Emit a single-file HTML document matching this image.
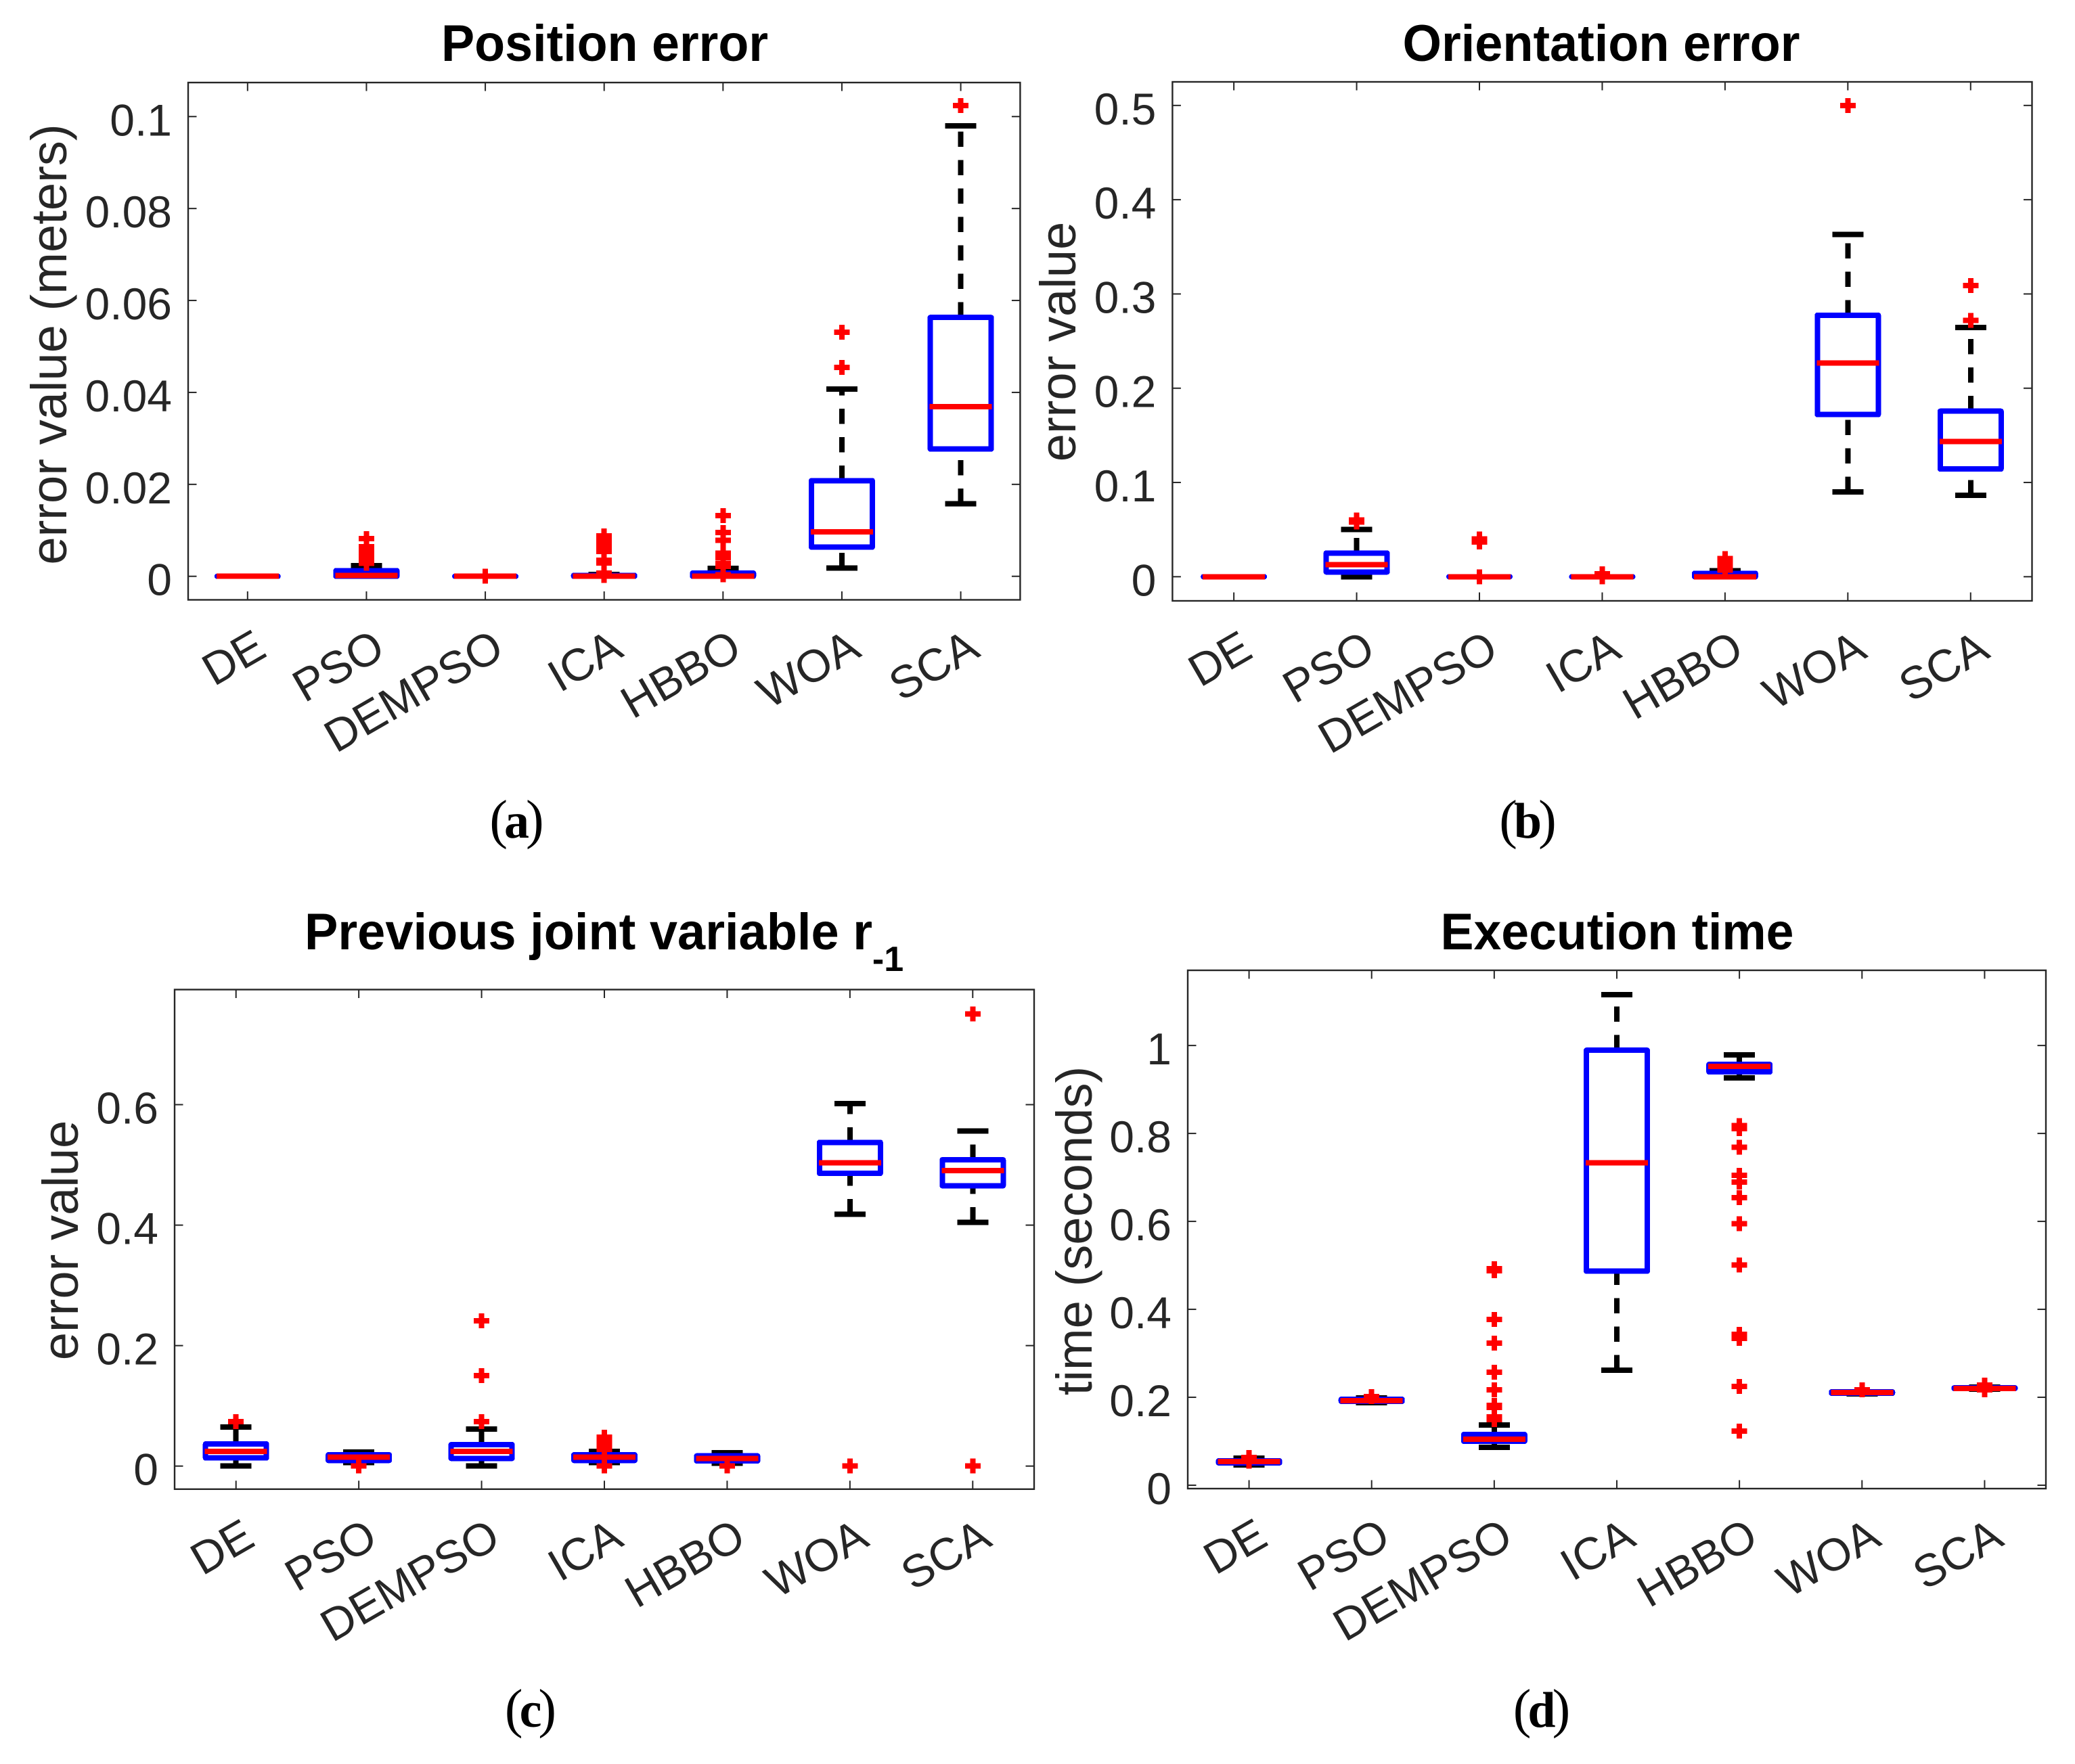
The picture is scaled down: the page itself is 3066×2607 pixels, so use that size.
<!DOCTYPE html>
<html lang="en">
<head>
<meta charset="utf-8">
<title>Box plots of position error, orientation error, joint variable and execution time</title>
<style>
html,body{margin:0;padding:0;background:#fff}
svg{display:block}
text{font-family:"Liberation Sans",sans-serif}
.title{font-weight:bold;fill:#000;text-anchor:middle}
.ylab{fill:#262626;text-anchor:middle;font-size:74.2px}
.cap{font-family:"Liberation Serif",serif;font-weight:bold;fill:#000;text-anchor:middle;font-size:74px}
.cap .par{font-weight:normal;font-size:80px}
</style>
</head>
<body>
<svg id="figure" xmlns="http://www.w3.org/2000/svg" width="3066" height="2607" viewBox="0 0 3066 2607">
<rect x="0" y="0" width="3066" height="2607" fill="#fff"/>
<text class="title" x="893.5" y="90" font-size="76" textLength="483" lengthAdjust="spacingAndGlyphs">Position error</text>
<text class="title" x="2366" y="90" font-size="76" textLength="587" lengthAdjust="spacingAndGlyphs">Orientation error</text>
<text class="title" x="869.5" y="1403" font-size="76" textLength="839" lengthAdjust="spacingAndGlyphs">Previous joint variable r</text>
<text class="title" x="1312" y="1435" font-size="52">-1</text>
<text class="title" x="2389.5" y="1403" font-size="76" textLength="522" lengthAdjust="spacingAndGlyphs">Execution time</text>
<text class="ylab" transform="translate(98 509) rotate(-90)">error value (meters)</text>
<text class="ylab" transform="translate(1589 505) rotate(-90)">error value</text>
<text class="ylab" transform="translate(115 1833) rotate(-90)">error value</text>
<text class="ylab" transform="translate(1613 1819) rotate(-90)">time (seconds)</text>
<text class="cap" x="763.5" y="1238"><tspan class="par">(</tspan><tspan dx="-5">a</tspan><tspan class="par" dx="-5">)</tspan></text>
<text class="cap" x="2257.5" y="1238"><tspan class="par">(</tspan><tspan dx="-5">b</tspan><tspan class="par" dx="-5">)</tspan></text>
<text class="cap" x="784" y="2552"><tspan class="par">(</tspan><tspan dx="-5">c</tspan><tspan class="par" dx="-5">)</tspan></text>
<text class="cap" x="2278" y="2552"><tspan class="par">(</tspan><tspan dx="-5">d</tspan><tspan class="par" dx="-5">)</tspan></text>
<g id="panels"></g>
</svg>
<script>
const categories = ['DE','PSO','DEMPSO','ICA','HBBO','WOA','SCA'];

// (a) Position error
const posTickValues = [0,0.02,0.04,0.06,0.08,0.1];
const posTickLabels = ['0','0.02','0.04','0.06','0.08','0.1'];
const posWhiskerLow = [0,0,0,0,0,0.0018,0.01575];
const posQ1 = [0,0,0,0,0,0.00635,0.0277];
const posMedian = [0,0.0002,0,0,0,0.00965,0.0369];
const posQ3 = [0,0.00123,0,0.0002,0.00069,0.0208,0.0563];
const posWhiskerHigh = [0,0.0023,0,0.0004,0.00176,0.0407,0.098];
const posOutliers = [
  [],
  [0.0082,0.0064,0.0058,0.0052,0.0046,0.004,0.0034,0.0028],
  [0],
  [0.0088,0.0082,0.0076,0.007,0.0064,0.0058,0.0054,0.0035,0.0029,0.0007,0.0002],
  [0.0132,0.0095,0.0078,0.005,0.0041,0.0028,0.0022,0.0003],
  [0.0454,0.0531],
  [0.1024]
];

// (b) Orientation error
const oriTickValues = [0,0.1,0.2,0.3,0.4,0.5];
const oriTickLabels = ['0','0.1','0.2','0.3','0.4','0.5'];
const oriWhiskerLow = [0,0,0,0,0,0.0899,0.0863];
const oriQ1 = [0,0.005,0,0,0,0.172,0.1143];
const oriMedian = [0,0.0129,0,0,0,0.2268,0.1435];
const oriQ3 = [0,0.0251,0,0,0.0036,0.2774,0.1756];
const oriWhiskerHigh = [0,0.0503,0,0,0.0065,0.3631,0.2643];
const oriOutliers = [
  [],
  [0.0603,0.0581],
  [0.04,0.037,0],
  [0.003,0],
  [0.0194,0.017,0.0145,0.012,0.0095,0.007],
  [0.5],
  [0.272,0.309]
];

// (c) Previous joint variable r-1
const jointTickValues = [0,0.2,0.4,0.6];
const jointTickLabels = ['0','0.2','0.4','0.6'];
const jointWhiskerLow = [0,0.0056,0,0.0056,0.005,0.4178,0.4047];
const jointQ1 = [0.0135,0.0094,0.0127,0.0094,0.0086,0.486,0.4654];
const jointMedian = [0.0243,0.0146,0.0243,0.0146,0.0127,0.5037,0.4907];
const jointQ3 = [0.0367,0.0187,0.0356,0.0187,0.0169,0.5374,0.5084];
const jointWhiskerHigh = [0.0648,0.0232,0.0614,0.0243,0.0221,0.6019,0.556];
const jointOutliers = [
  [0.0738],
  [0],
  [0.0738,0.15,0.2412],
  [0,0.048,0.043,0.038,0.033,0.028],
  [0],
  [0],
  [0,0.7505]
];

// (d) Execution time
const timeTickValues = [0,0.2,0.4,0.6,0.8,1];
const timeTickLabels = ['0','0.2','0.4','0.6','0.8','1'];
const timeWhiskerLow = [0.0462,0.1877,0.0862,0.2615,0.9262,0.2077,0.2185];
const timeQ1 = [0.0508,0.1908,0.1,0.4868,0.94,0.2092,0.22];
const timeMedian = [0.0538,0.1923,0.1046,0.7334,0.9523,0.2108,0.22];
const timeQ3 = [0.0554,0.1954,0.1154,0.9892,0.9569,0.2123,0.2215];
const timeWhiskerHigh = [0.0615,0.1985,0.1369,1.1154,0.9785,0.2123,0.2231];
const timeOutliers = [
  [0.0631,0.055],
  [0.2015],
  [0.4923,0.4877,0.3769,0.3231,0.2569,0.2169,0.1815,0.177,0.1554,0.1492],
  [],
  [0.8175,0.811,0.7686,0.7044,0.689,0.6542,0.5951,0.501,0.343,0.3338,0.2246,0.1231],
  [0.2169],
  [0.2277,0.2169]
];

const SVGNS = 'http://www.w3.org/2000/svg';
const root = document.getElementById('panels');
const AXIS = '#262626';

function make(tag, attrs, parent) {
  const el = document.createElementNS(SVGNS, tag);
  for (const k in attrs) el.setAttribute(k, attrs[k]);
  parent.appendChild(el);
  return el;
}

function drawPanel(p) {
  const g = make('g', {}, root);
  
  

  const xPos = i => p.left + (i + 0.5) * (p.right - p.left) / categories.length;
  const yPos = v => p.bottom - (v - p.yMin) / (p.yMax - p.yMin) * (p.bottom - p.top);

  // ticks
  const tickLen = 12.5;
  categories.forEach((c, i) => {
    const x = xPos(i);
    const t1 = make('line', {x1:x, x2:x, y1:p.bottom, y2:p.bottom - tickLen, stroke:AXIS, 'stroke-width':2}, g);
    
    
    const t2 = make('line', {x1:x, x2:x, y1:p.top, y2:p.top + tickLen, stroke:AXIS, 'stroke-width':2}, g);
    
    
    const lab = make('text', {
      transform:'translate(' + (x + 31) + ' ' + (p.bottom + 82) + ') rotate(-30)',
      'text-anchor':'end', 'font-size':67, fill:AXIS
    }, g);
    lab.textContent = c;
    
    
  });
  p.tickValues.forEach((v, i) => {
    const y = yPos(v);
    const t1 = make('line', {x1:p.left, x2:p.left + tickLen, y1:y, y2:y, stroke:AXIS, 'stroke-width':2}, g);
    
    
    const t2 = make('line', {x1:p.right, x2:p.right - tickLen, y1:y, y2:y, stroke:AXIS, 'stroke-width':2}, g);
    
    
    const lab = make('text', {x:p.left - 24, y:y + 28, 'text-anchor':'end', 'font-size':66, fill:AXIS}, g);
    lab.textContent = p.tickLabels[i];
    
    
  });

  // boxes
  categories.forEach((c, i) => {
    const x = xPos(i);
    const key = p.name + '-' + c.toLowerCase();
    const boxG = make('g', {'shape-rendering':'crispEdges'}, g);
    
    

    const wLo = yPos(p.whiskerLow[i]);
    const wHi = yPos(p.whiskerHigh[i]);
    const q1 = yPos(p.q1[i]);
    const q3 = yPos(p.q3[i]);
    const med = yPos(p.median[i]);

    const upper = make('line', {x1:x, x2:x, y1:q3, y2:wHi, stroke:'#000', 'stroke-width':8, 'stroke-dasharray':'22.5 19.5'}, boxG);
    
    
    const lower = make('line', {x1:x, x2:x, y1:wLo, y2:q1, stroke:'#000', 'stroke-width':8, 'stroke-dasharray':'22.5 19.5'}, boxG);
    
    

    const capHi = make('line', {x1:x - 23, x2:x + 23, y1:wHi, y2:wHi, stroke:'#000', 'stroke-width':8}, boxG);
    
    
    const capLo = make('line', {x1:x - 23, x2:x + 23, y1:wLo, y2:wLo, stroke:'#000', 'stroke-width':8}, boxG);
    
    

    const hw = 45;
    const box = make('path', {
      d:'M' + (x - hw) + ' ' + q1 + 'L' + (x + hw) + ' ' + q1 + 'L' + (x + hw) + ' ' + q3 + 'L' + (x - hw) + ' ' + q3 + 'Z',
      fill:'none', stroke:'#0000ff', 'stroke-width':8, 'stroke-linejoin':'round'
    }, boxG);
    
    

    const medLine = make('line', {x1:x - 46, x2:x + 46, y1:med, y2:med, stroke:'#ff0000', 'stroke-width':8}, boxG);
    
    

    p.outliers[i].forEach(v => {
      const y = yPos(v);
      const o = make('path', {
        d:'M' + (x - 11.5) + ' ' + y + 'H' + (x + 11.5) + 'M' + x + ' ' + (y - 11) + 'V' + (y + 11),
        fill:'none', stroke:'#ff0000', 'stroke-width':8
      }, boxG);
      
      
    });
  });

  // axes frame
  const frame = make('rect', {
    x:p.left, y:p.top, width:p.right - p.left, height:p.bottom - p.top,
    fill:'none', stroke:AXIS, 'stroke-width':2.4
  }, g);
  
  
}

drawPanel({name:'position', left:278, right:1507.4, top:122, bottom:886.5, yMin:-0.00512, yMax:0.1074,
  tickValues:posTickValues, tickLabels:posTickLabels, whiskerLow:posWhiskerLow, q1:posQ1, median:posMedian, q3:posQ3, whiskerHigh:posWhiskerHigh, outliers:posOutliers});
drawPanel({name:'orientation', left:1732.4, right:3002.5, top:121, bottom:888, yMin:-0.0256, yMax:0.525,
  tickValues:oriTickValues, tickLabels:oriTickLabels, whiskerLow:oriWhiskerLow, q1:oriQ1, median:oriMedian, q3:oriQ3, whiskerHigh:oriWhiskerHigh, outliers:oriOutliers});
drawPanel({name:'joint', left:258, right:1528, top:1462.5, bottom:2200.8, yMin:-0.0383, yMax:0.791,
  tickValues:jointTickValues, tickLabels:jointTickLabels, whiskerLow:jointWhiskerLow, q1:jointQ1, median:jointMedian, q3:jointQ3, whiskerHigh:jointWhiskerHigh, outliers:jointOutliers});
drawPanel({name:'time', left:1755, right:3023, top:1434, bottom:2200, yMin:-0.0077, yMax:1.171,
  tickValues:timeTickValues, tickLabels:timeTickLabels, whiskerLow:timeWhiskerLow, q1:timeQ1, median:timeMedian, q3:timeQ3, whiskerHigh:timeWhiskerHigh, outliers:timeOutliers});
</script>
</body>
</html>
